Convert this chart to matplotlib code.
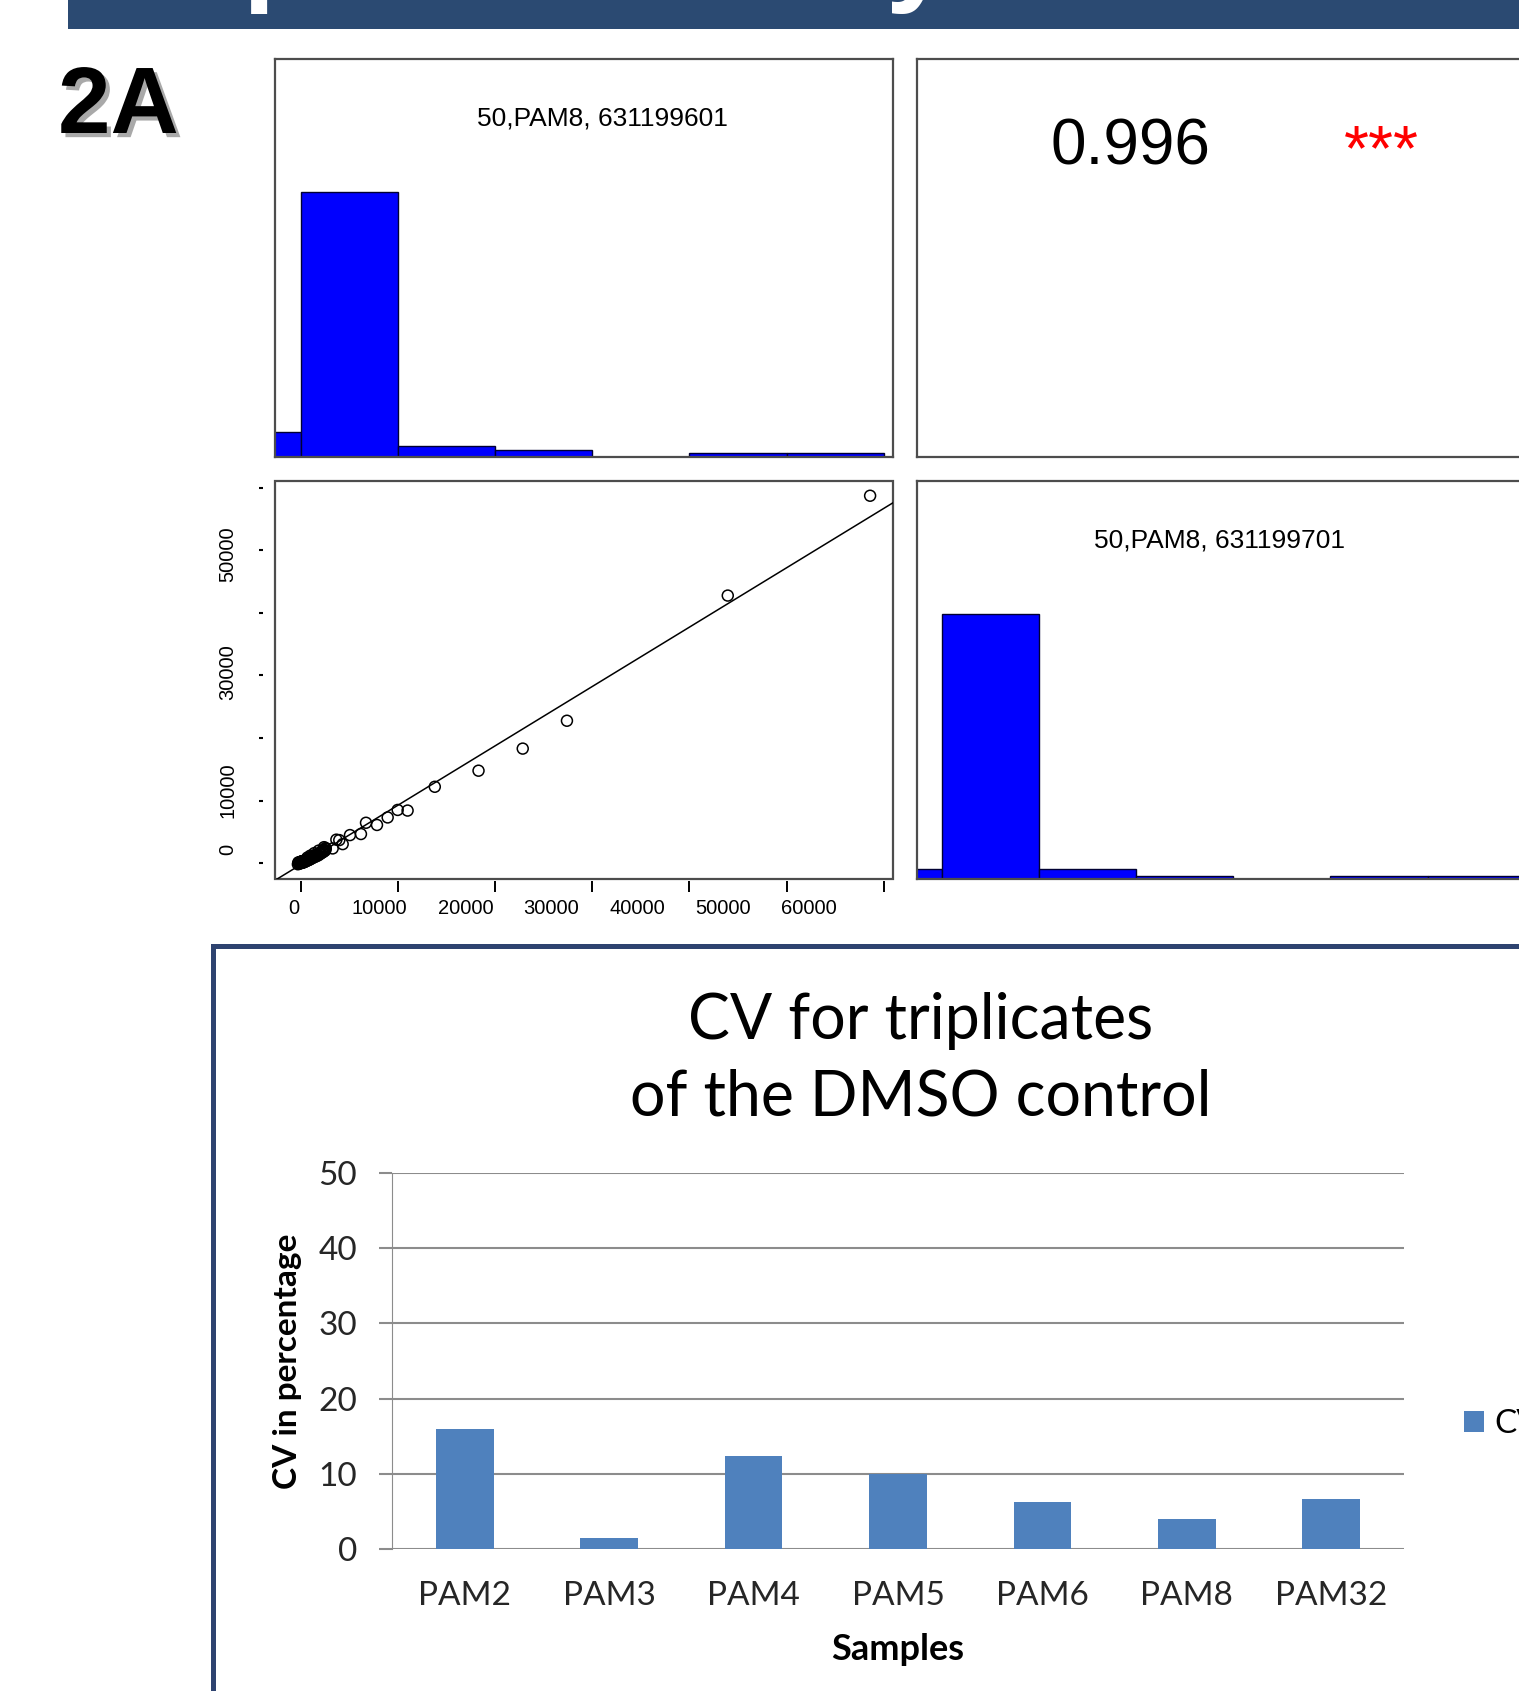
import matplotlib
matplotlib.use('Agg')
import matplotlib.pyplot as plt
import matplotlib.patheffects as pe
from matplotlib.patches import Rectangle
from matplotlib.transforms import blended_transform_factory
import numpy as np

plt.rcParams['font.family'] = ['Liberation Sans', 'DejaVu Sans']

# DMSO control intensities, array 631199601 (x) against array 631199701 (y)
array_601 = [58600, 43950, 27400, 22850, 18300, 13800, 11000, 9980, 8950, 7850,
             6720, 6200, 5070, 4320, 3970, 3670, 3290, 2260,
             -290, -240, -210, -170, 15, -120, -90, -60, 45, 20,
             30, 60, 85, 110, 140, 165, 190, 220, 250, 280,
             310, 340, 370, 400, 430, 460, 500, 530, 560, 600,
             640, 680, 720, 760, 800, 840, 880, 920, 970, 1020,
             1070, 1120, 1170, 1220, 1280, 1330, 1390, 1450, 1510, 1570,
             1630, 1690, 1750, 1820, 1880, 1950, 2020, 2090, 2160, 2230,
             2300, 2380, 2450, 2520, 2580, 700, 1000, 1400, 1850, 2400, 2550]
array_701 = [58700, 42750, 22750, 18300, 14770, 12200, 8400, 8500, 7300, 6100,
             6450, 4650, 4480, 3040, 3680, 3750, 2350, 2080,
             -180, 120, 60, -90, 210, 40, 150, -40, 260, 90,
             180, 20, 240, 130, 60, 300, 170, 90, 330, 210,
             140, 380, 260, 190, 450, 330, 280, 520, 400, 350,
             590, 470, 430, 680, 560, 520, 790, 650, 610, 900,
             780, 740, 1010, 900, 870, 1150, 1020, 1000, 1300, 1150,
             1120, 1420, 1300, 1260, 1560, 1430, 1650, 1560, 1820, 1700,
             1960, 1850, 2120, 2010, 2300, 900, 1200, 1600, 2000, 2550, 2420]
label_601 = '50,PAM8, 631199601'
label_701 = '50,PAM8, 631199701'
cor_value = '0.996'
cor_stars = '***'
hist_breaks = np.arange(-10000, 70001, 10000)
scatter_ticks = np.arange(0, 60001, 10000)
scatter_ylabels = [0, 10000, 30000, 50000]

samples = ['PAM2', 'PAM3', 'PAM4', 'PAM5', 'PAM6', 'PAM8', 'PAM32']
cv_pct = [16.0, 1.45, 12.4, 10.0, 6.25, 4.0, 6.7]

W, H = 1519, 1691
fig = plt.figure(figsize=(W / 100, H / 100), dpi=100)


def px_axes(x0, y0, x1, y1):
    return fig.add_axes([x0 / W, 1 - y1 / H, (x1 - x0) / W, (y1 - y0) / H])


def r_range(v):
    lo, hi = min(v), max(v)
    pad = 0.04 * (hi - lo)
    return lo - pad, hi + pad


def box(ax):
    for s in ax.spines.values():
        s.set_color('#4d4d4d')
        s.set_linewidth(1.6)


def hist_panel(ax, vals, label, tx):
    counts, edges = np.histogram(vals, bins=hist_breaks)
    ax.bar(edges[:-1], counts / counts.max(), width=np.diff(edges), align='edge',
           color='#0000ff', edgecolor='#000033', linewidth=1.0)
    ax.set_xlim(r_range(vals))
    ax.set_ylim(0, 1.5)
    ax.set_xticks([])
    ax.set_yticks([])
    box(ax)
    ax.text(tx, 0.85, label, transform=ax.transAxes, ha='center', va='center', fontsize=19)


# banner and panel label
fig.add_artist(Rectangle((68 / W, 1 - 29.3 / H), 1, 0.1, transform=fig.transFigure,
                         color='#2b4a72', lw=0))
fig.text(92 / W, 1 + 10.5 / H, 'Reproducibility', color='white', fontsize=85,
         weight='bold', va='baseline')
fig.text(58 / W, 1 - 133 / H, '2A', fontsize=68, weight='bold', va='baseline',
         path_effects=[pe.withSimplePatchShadow(offset=(3, -3), shadow_rgbFace='#555555', alpha=0.5)])

# pairs plot
ax1 = px_axes(275, 59, 893, 457)
hist_panel(ax1, array_601, label_601, 0.53)

ax2 = px_axes(917, 59, 1535, 457)
ax2.set_xticks([])
ax2.set_yticks([])
box(ax2)
ax2.text(0.345, 0.734, cor_value, transform=ax2.transAxes, ha='center', va='baseline', fontsize=46)
ax2.text(0.752, 0.72, cor_stars, transform=ax2.transAxes, ha='center', va='baseline',
         fontsize=46, color='red')

ax3 = px_axes(275, 481, 893, 879)
ax3.scatter(array_601, array_701, s=62, facecolors='none', edgecolors='black', linewidths=1.1, zorder=3)
ax3.set_xlim(r_range(array_601))
ax3.set_ylim(r_range(array_701))
slope, icpt = np.polyfit(array_601, array_701, 1)
xs = np.array(ax3.get_xlim())
ax3.plot(xs, slope * xs + icpt, color='black', lw=1.1)
for s in ax3.spines.values():
    s.set_visible(False)
ax3.spines['bottom'].set_position(('outward', 1.5))
ax3.spines['left'].set_position(('outward', 8.6))
ax3.add_patch(Rectangle((0, 0), 1, 1, transform=ax3.transAxes, fill=False,
                        ec='#4d4d4d', lw=1.6, clip_on=False))
ax3.set_xticks(scatter_ticks)
ax3.set_yticks(scatter_ticks)
ax3.tick_params(axis='x', length=8, width=1.4, labelbottom=False)
ax3.tick_params(axis='y', length=3, width=1.5, labelleft=False)
tx = blended_transform_factory(ax3.transData, ax3.transAxes)
for t in scatter_ticks:
    ax3.text(t * 0.883 - 690, -0.073, str(t), transform=tx, ha='center', va='center', fontsize=14.5)
ty = blended_transform_factory(ax3.transAxes, ax3.transData)
for t in scatter_ylabels:
    ax3.text(-0.076, t * 0.942 + 2240, str(t), transform=ty, ha='center', va='center',
             fontsize=14.5, rotation=90)

ax4 = px_axes(917, 481, 1535, 879)
hist_panel(ax4, array_701, label_701, 0.49)

# CV bar chart
fig.add_artist(Rectangle((212.5 / W, -0.1), 1.0, 1.1 - 945.8 / H, transform=fig.transFigure,
                         fill=False, ec='#2e4370', lw=3.6))
ax5 = px_axes(392.4, 1173, 1403.6, 1549)
pos = np.arange(len(samples))
bars = ax5.bar(pos, cv_pct, width=0.4, color='#4f81bd', zorder=3)
ax5.set_xlim(-0.5, len(samples) - 0.5)
ax5.set_ylim(0, 50)
ax5.set_yticks(range(0, 51, 10))
ax5.set_xticks(pos)
ax5.set_xticklabels(samples)
ax5.yaxis.grid(True, color='#8c8c8c', lw=1.5)
ax5.set_axisbelow(True)
for k in ['top', 'right', 'bottom']:
    ax5.spines[k].set_visible(False)
ax5.spines['left'].set_color('#8c8c8c')
ax5.spines['left'].set_linewidth(0.8)
ax5.tick_params(axis='y', length=9.4, width=1.5, color='#8c8c8c', labelsize=24,
                labelcolor='#262626', labelfontfamily='Lato', pad=16)
ax5.tick_params(axis='x', length=0, labelsize=24, labelcolor='#262626',
                labelfontfamily='Lato', pad=23)
ax5.legend([bars], ['CV'], loc='center left', bbox_to_anchor=(1464 / W, 1 - 1424 / H),
           bbox_transform=fig.transFigure, frameon=False, handlelength=0.6, handleheight=0.6,
           handletextpad=0.3, borderpad=0, borderaxespad=0, prop={'family': 'Lato', 'size': 24})
fig.text(921 / W, 1 - 1021 / H, 'CV for triplicates', family='Lato', fontsize=45,
         ha='center', va='center')
fig.text(921 / W, 1 - 1097 / H, 'of the DMSO control', family='Lato', fontsize=45,
         ha='center', va='center')
fig.text(898 / W, 1 - 1649 / H, 'Samples', family='Lato', weight='bold', fontsize=26,
         ha='center', va='center')
fig.text(287 / W, 1 - 1361 / H, 'CV in percentage', family='Lato', weight='bold', fontsize=24,
         ha='center', va='center', rotation=90)

fig.savefig('out.png', dpi=100, facecolor='white')
